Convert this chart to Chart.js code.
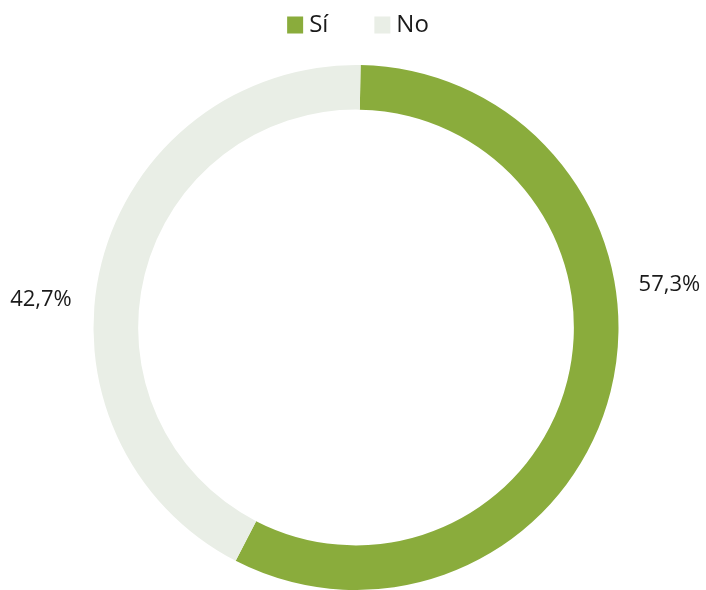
<!DOCTYPE html>
<html>
<head>
<meta charset="utf-8">
<script src="https://cdn.jsdelivr.net/npm/chart.js@4/dist/chart.umd.min.js"></script>
<style>
html,body{margin:0;padding:0;background:#fff;}
#wrap{width:706px;height:590px;position:relative;}
</style>
</head>
<body>
<div id="wrap"><canvas id="c" width="706" height="590"></canvas></div>
<script>
const categories = ["Sí", "No"];
const values = [57.3, 42.7];
const valueLabels = ["57,3%", "42,7%"];
const colors = ["#8aac3c", "#e9eee6"];

const FONT = '"Open Sans", "Noto Sans", sans-serif';

const labelPlugin = {
  id: 'outLabels',
  afterDatasetsDraw(chart) {
    const ctx = chart.ctx;
    const meta = chart.getDatasetMeta(0);
    ctx.save();
    ctx.font = '22px ' + FONT;
    ctx.fillStyle = '#1a1a1a';
    ctx.textAlign = 'center';
    ctx.textBaseline = 'middle';
    meta.data.forEach((arc, i) => {
      const r = arc.outerRadius;
      const ang = i === 0 ? -7.8 : 185.1;
      const rad = ang * Math.PI / 180;
      const d = r * 1.205;
      ctx.fillText(valueLabels[i], arc.x + Math.cos(rad) * d, arc.y + Math.sin(rad) * d);
    });
    ctx.restore();
  }
};

const legendPlugin = {
  id: 'topLegend',
  afterDraw(chart) {
    const ctx = chart.ctx;
    ctx.save();
    ctx.font = '24px ' + FONT;
    ctx.textBaseline = 'middle';
    ctx.textAlign = 'left';
    const box = 16, gap = 6, itemGap = 46;
    const widths = categories.map(c => ctx.measureText(c).width);
    let total = 0;
    widths.forEach((w, i) => { total += box + gap + w + (i < widths.length - 1 ? itemGap : 0); });
    let x = chart.width / 2 + 5 - total / 2;
    const yMid = 25;
    categories.forEach((c, i) => {
      ctx.fillStyle = colors[i];
      ctx.fillRect(x, yMid - 8.5, box, 17);
      ctx.fillStyle = '#1a1a1a';
      ctx.fillText(c, x + box + gap, yMid);
      x += box + gap + widths[i] + itemGap;
    });
    ctx.restore();
  }
};

new Chart(document.getElementById('c'), {
  type: 'doughnut',
  data: {
    labels: categories,
    datasets: [{
      data: values,
      backgroundColor: colors,
      borderWidth: 0,
      hoverOffset: 0
    }]
  },
  options: {
    responsive: false,
    animation: false,
    rotation: 1,
    cutout: '83%',
    layout: { padding: { top: 65, bottom: -1, left: 6, right: 0 } },
    plugins: {
      legend: { display: false },
      tooltip: { enabled: false }
    }
  },
  plugins: [labelPlugin, legendPlugin]
});
</script>
</body>
</html>
